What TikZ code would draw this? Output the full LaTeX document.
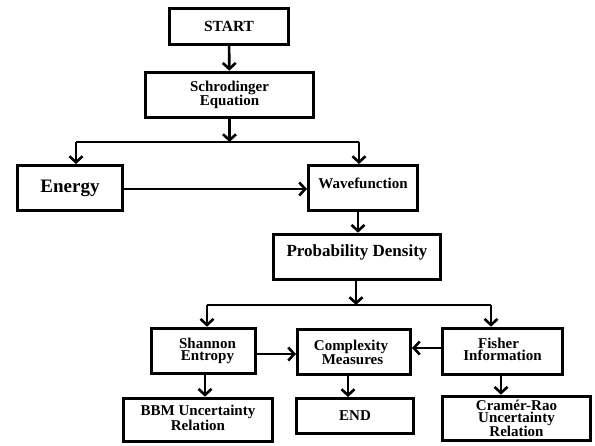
\documentclass[tikz,border=0pt]{standalone}
\usepackage{fontspec}
\setmainfont{Liberation Serif}
\usetikzlibrary{arrows.meta}
\tikzset{
  box/.style={draw=black, line width=3pt, rectangle, inner sep=0pt, align=center, font=\bfseries\fontsize{15}{13.5}\selectfont},
  thickbox/.style={box, line width=3.6pt},
  tight/.style={font=\bfseries\fontsize{15}{11.5}\selectfont},
  arr/.style={line width=2.6pt, -{Straight Barb[length=6pt,width=13pt]}},
  ln/.style={line width=2.6pt},
}
\begin{document}
\begin{tikzpicture}[x=1pt,y=-1pt]
\useasboundingbox[fill=white] (0,0) rectangle (595,445);
% boxes
\node[box, minimum width=119, minimum height=36, font=\bfseries\fontsize{15.5}{14}\selectfont] (start) at (229,26.5) {START};
\node[thickbox, minimum width=168, minimum height=45] (schro) at (229.5,95) {Schrodinger\\Equation};
\node[box, minimum width=105, minimum height=45, font=\bfseries\fontsize{19}{22}\selectfont] (energy) at (70,188) {Energy};
\node[box, minimum width=109, minimum height=45, text depth=9pt] (wave) at (363,188) {Wavefunction};
\node[thickbox, minimum width=167, minimum height=45, text depth=12pt, font=\bfseries\fontsize{17}{19}\selectfont] (prob) at (357,257) {Probability Density};
\node[thickbox, tight, minimum width=104, minimum height=45] (shannon) at (203.5,351) {\hspace*{8pt}Shannon\\\hspace*{8pt}Entropy};
\node[box, tight, minimum width=113, minimum height=45] (complex) at (354,352) {Complexity\hspace*{6pt}\\Measures\hspace*{3pt}};
\node[thickbox, tight, minimum width=120, minimum height=46, text depth=4pt] (fisher) at (502.5,351.5) {Fisher\hspace*{8pt}\\Information};
\node[thickbox, tight, minimum width=149, minimum height=43, font=\bfseries\fontsize{15}{10.5}\selectfont, text depth=5pt] (bbm) at (198,420) {BBM Uncertainty\\Relation};
\node[box, minimum width=117, minimum height=35] (end) at (355,416) {END};
\node[thickbox, minimum width=148, minimum height=44, font=\bfseries\fontsize{15}{11.5}\selectfont] (cramer) at (516.5,418.5) {Cramér-Rao\\Uncertainty\\Relation};
% branch coordinates
\coordinate (b1) at (229.5,142);
\coordinate (b1l) at (76,142);
\coordinate (b1r) at (359,142);
\coordinate (b2) at (356,305);
\coordinate (b2l) at (207,305);
\coordinate (b2r) at (491,305);
% connectors
\draw[arr] (start) -- (schro);
\draw[arr] (schro) -- (b1);
\draw[ln] (b1l) -- (b1r);
\draw[arr] (b1l) -- (b1l |- energy.north);
\draw[arr] (b1r) -- (b1r |- wave.north);
\draw[arr] (energy.east |- 0,189) -- (wave.west |- 0,189);
\draw[arr] (wave.south -| 358,0) -- (prob.north -| 358,0);
\draw[arr] (prob.south -| b2) -- (b2);
\draw[ln] (b2l) -- (b2r);
\draw[arr] (b2l) -- (b2l |- shannon.north);
\draw[arr] (b2r) -- (b2r |- fisher.north);
\draw[arr] (shannon.east |- 0,354) -- (complex.west |- 0,354);
\draw[arr] (fisher.west |- 0,348) -- (complex.east |- 0,348);
\draw[arr] (shannon.south -| 205,0) -- (bbm.north -| 205,0);
\draw[arr] (complex.south -| 348,0) -- (end.north -| 348,0);
\draw[arr] (fisher.south -| 501,0) -- (cramer.north -| 501,0);
\end{tikzpicture}
\end{document}
